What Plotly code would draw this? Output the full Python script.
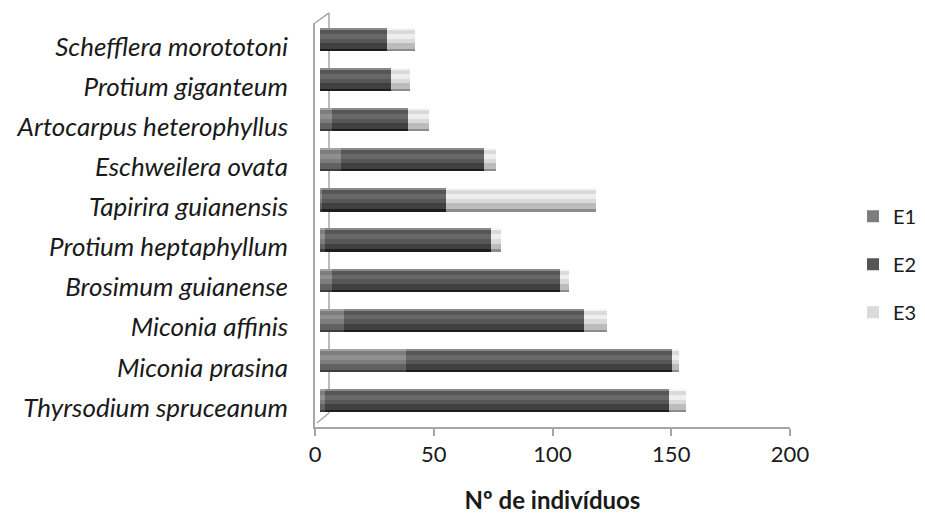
import numpy as np
import plotly.graph_objects as go

# ---------------- data (bottom -> top, as drawn) ----------------
species = [
    "Thyrsodium spruceanum",
    "Miconia prasina",
    "Miconia affinis",
    "Brosimum guianense",
    "Protium heptaphyllum",
    "Tapirira guianensis",
    "Eschweilera ovata",
    "Artocarpus heterophyllus",
    "Protium giganteum",
    "Schefflera morototoni",
]
e1 = [2, 36, 10, 5, 2, 1, 9, 5, 0, 0]
e2 = [145, 112, 101, 96, 70, 52, 60, 32, 30, 28]
e3 = [7, 3, 10, 4, 4, 63, 5, 9, 8, 12]
series_names = ["E1", "E2", "E3"]
x_ticks = [0, 50, 100, 150, 200]
x_title = "Nº de indivíduos"

# ---------------- styling ----------------
FONT = "Lato"
series_vals = [e1, e2, e3]
# main, lower shade, bottom edge, highlight, top edge
palette = {
    "E1": ["#7d7d7d", "#616161", "#3c3c3c", "#8f8f8f", "#a4a4a4"],
    "E2": ["#565656", "#404040", "#1d1d1d", "#686868", "#8a8a8a"],
    "E3": ["#dadada", "#bcbcbc", "#8c8c8c", "#eeeeee", "#f6f6f6"],
}
W = 0.574          # bar thickness (category units)
B = -W / 2         # bottom offset

fig = go.Figure()

bases = np.zeros(len(species))
for name, vals in zip(series_names, series_vals):
    vals = np.array(vals, dtype=float)
    cols = palette[name]
    fig.add_trace(go.Bar(
        y=species, x=vals, base=bases.copy(), orientation="h",
        name=name, legendgroup=name, width=W, offset=B,
        marker=dict(color=cols[0], line=dict(width=0)),
        xaxis="x", yaxis="y",
    ))
    strips = [
        (B, 0.20, cols[1]),
        (B, 0.055, cols[2]),
        (0.02, 0.12, cols[3]),
        (W / 2 - 0.035, 0.035, cols[4]),
    ]
    for off, wd, c in strips:
        fig.add_trace(go.Bar(
            y=species, x=vals, base=bases.copy(), orientation="h",
            name=name, legendgroup=name, showlegend=False,
            width=wd, offset=off,
            marker=dict(color=c, line=dict(width=0)),
            hoverinfo="skip", xaxis="x", yaxis="y",
        ))
    bases = bases + vals

# empty trace that carries the visible (front) value axis
fig.add_trace(go.Scatter(x=[], y=[], xaxis="x2", yaxis="y",
                         showlegend=False, hoverinfo="skip"))

axis_grey = "#a6a6a6"
PX_PER_UNIT = 475 / 200
shift = 5 / PX_PER_UNIT   # bars sit slightly behind the front axis (3D depth)

wall = dict(type="line", xref="paper", yref="paper",
            line=dict(color=axis_grey, width=1.5), layer="below")
shapes = [
    dict(wall, x0=0.0295, x1=0.0295, y0=0.0347, y1=1.0248),
    dict(wall, x0=0.0, x1=0.0295, y0=1.0, y1=1.0248),
    dict(wall, x0=0.004, x1=0.0295, y0=0.0099, y1=0.0347),
]

# page body adds an 8px offset, so margins are compensated
fig.update_layout(
    width=925, height=513,
    margin=dict(l=307, r=143, t=15, b=94, pad=0, autoexpand=False),
    paper_bgcolor="white", plot_bgcolor="white",
    barmode="overlay",
    bargap=0,
    font=dict(family=FONT, color="#1a1a1a"),
    showlegend=True,
    legend=dict(
        x=(853 - 315) / 475, xanchor="left", y=0.403, yanchor="middle",
        traceorder="grouped", tracegroupgap=19,
        font=dict(family=FONT, size=20, color="#1a1a1a"),
        bgcolor="rgba(0,0,0,0)",
    ),
    xaxis=dict(
        range=[-shift, 200 - shift],
        showline=False, showgrid=False, zeroline=False,
        showticklabels=False, ticks="",
    ),
    xaxis2=dict(
        overlaying="x", anchor="y", side="bottom",
        range=[0, 200], tickmode="array", tickvals=x_ticks,
        showline=True, linecolor=axis_grey, linewidth=2,
        ticks="outside", ticklen=7, tickwidth=1.5, tickcolor=axis_grey,
        showgrid=False, zeroline=False,
        tickfont=dict(family=FONT, size=22, color="#1a1a1a"),
        title=dict(text=x_title, standoff=26,
                   font=dict(family=FONT, size=24, color="#1a1a1a", weight="bold")),
    ),
    yaxis=dict(
        type="category", categoryorder="array", categoryarray=species,
        range=[-0.661, 9.414],
        showline=True, linecolor=axis_grey, linewidth=1.5,
        ticks="", showgrid=False, zeroline=False,
        ticklabelstandoff=20, ticklabelshift=7,
        tickfont=dict(family=FONT, size=26, color="#1a1a1a", style="italic"),
    ),
    shapes=shapes,
)

fig.write_html("out.html")
